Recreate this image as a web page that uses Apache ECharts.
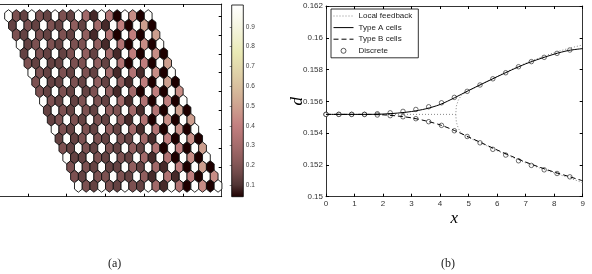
<!DOCTYPE html>
<html>
<head>
<meta charset="utf-8">
<script src="https://cdn.jsdelivr.net/npm/echarts@6/dist/echarts.min.js"></script>
<style>
  html, body { margin: 0; padding: 0; background: #fff; }
  #chart { width: 592px; height: 274px; }
</style>
</head>
<body>
<div id="chart"></div>
<script>
// ---------- (a) hexagonal cells, one string per row (19 cells each)
// W = white cell, digits = shade level
const hexRows = [
  "W32W32W32W51W60W80W",
  "2W32W32W42W51W70W90",
  "32W32W32W41W60W70W9",
  "W23W32W33W41W60W80W",
  "2W32W23W42W51W70W80",
  "32W22W33W42W60W70W9",
  "W32W32W32W51W61W80W",
  "3W22W32W42W41W70W90",
  "32W32W23W41W50W70W8",
  "W32W23W32W51W60W70W",
  "2W32W32W43W51W60W90",
  "23W32W32W41W60W80W9",
  "W32W32W42W51W60W80W",
  "2W23W32W32W51W70W80",
  "32W32W32W42W60W70W9",
  "W22W32W32W51W60W80W",
  "3W32W22W42W51W70W90",
  "32W33W32W41W61W70W8",
  "W32W32W32W51W60W80W"
];
const shade = { W: 1.0, 0: 0.04, 1: 0.09, 2: 0.14, 3: 0.19, 4: 0.24, 5: 0.29, 6: 0.34, 7: 0.39, 8: 0.44, 9: 0.49 };
const hexXTicks = [2.5, 7.5, 12.5, 17.5, 22.5];
const hexYTicks = [0, 2, 4, 6, 8, 10, 12, 14, 16, 18];

// colorbar
const cbMin = 0.042, cbMax = 1.01;
const cbTicks = [0.1, 0.2, 0.3, 0.4, 0.5, 0.6, 0.7, 0.8, 0.9];
// matlab "pink" colormap
const pinkMap = [
  "#1e0000", "#503434", "#704a4a", "#8a5a5a", "#9f6868", "#b27474", "#c38080",
  "#ca968a", "#d0aa93", "#d7bc9c", "#ddcca5", "#e3dbad", "#e9e9b4", "#efefca",
  "#f4f4dd", "#fafaef", "#ffffff"
];

// ---------- (b) curves
const curveX = [0, 0.5, 1, 1.5, 2, 2.5, 3, 3.5, 4, 4.5, 5, 5.5, 6, 6.5, 7, 7.5, 8, 8.5, 9];
const typeA = [0.15518, 0.15518, 0.15518, 0.15518, 0.1552, 0.15526, 0.15536, 0.15553, 0.1558, 0.15622,
  0.15668, 0.15712, 0.15755, 0.15797, 0.15836, 0.15868, 0.15897, 0.1592, 0.15932];
const typeB = [0.15518, 0.15518, 0.15518, 0.15518, 0.15515, 0.15508, 0.15496, 0.15477, 0.15452, 0.15417,
  0.15376, 0.15335, 0.15294, 0.15255, 0.15218, 0.15185, 0.15155, 0.15128, 0.151];

const feedbackUpX = [0, 4.55, 4.57, 4.64, 4.75, 4.93, 5.5, 6, 6.5, 7, 7.5, 8, 8.5, 9];
const feedbackUp = [0.15518, 0.15518, 0.1557, 0.15608, 0.1564, 0.1566, 0.15712, 0.15757, 0.158, 0.1584,
  0.15875, 0.15907, 0.15933, 0.15955];
const feedbackLowX = [4.55, 4.57, 4.64, 4.75, 4.93, 5.5, 6, 6.5, 7, 7.5, 8, 8.5, 9];
const feedbackLow = [0.15518, 0.1547, 0.1543, 0.15398, 0.15377, 0.15332, 0.1529, 0.1525, 0.15213, 0.1518,
  0.1515, 0.1512, 0.15088];

const discreteX = [0, 0.45, 0.9, 1.35, 1.8, 2.25, 2.7, 3.15, 3.6, 4.05, 4.5, 4.95, 5.4, 5.85, 6.3, 6.75,
  7.2, 7.65, 8.1, 8.55];
const discreteA = [0.15518, 0.15518, 0.15518, 0.15518, 0.15522, 0.15528, 0.15537, 0.15549, 0.15566, 0.15591,
  0.15625, 0.15663, 0.15703, 0.15742, 0.1578, 0.15818, 0.1585, 0.15877, 0.15902, 0.15923];
const discreteB = [0.15518, 0.15518, 0.15518, 0.15518, 0.15514, 0.1551, 0.15503, 0.15491, 0.15472, 0.15449,
  0.15415, 0.15379, 0.15339, 0.15298, 0.15262, 0.15226, 0.15197, 0.15169, 0.15146, 0.15125];

// build hex data: lattice x = column + row/2
let hexData = [];
hexRows.forEach((row, r) => {
  row.split("").forEach((ch, c) => {
    hexData.push([c + r / 2, r, shade[ch]]);
  });
});

const zip = (xs, ys) => xs.map((x, i) => [x, ys[i]]);
const hexCorners = [[0, -2 / 3], [0.5, -1 / 3], [0.5, 1 / 3], [0, 2 / 3], [-0.5, 1 / 3], [-0.5, -1 / 3]];

const sans = "Liberation Sans";
const serif = "Liberation Serif";
const axisBlack = { onZero: false, lineStyle: { color: "#000", width: 0.8 } };
const noSymbol = { opacity: 0 };

let myChart = echarts.init(document.getElementById("chart"), null, { renderer: "canvas" });

myChart.setOption({
  animation: false,
  backgroundColor: "#fff",
  title: [
    { text: "(a)", left: 108, top: 258, padding: 0,
      textStyle: { fontFamily: serif, fontSize: 12, fontWeight: "normal", color: "#222" } },
    { text: "(b)", left: 441, top: 258, padding: 0,
      textStyle: { fontFamily: serif, fontSize: 12, fontWeight: "normal", color: "#222" } }
  ],
  grid: [
    { left: -2, top: 4, width: 223.7, height: 192.7 },
    { left: 326, top: 6, width: 256.7, height: 190.7 },
    { left: 231.7, top: 5, width: 11.6, height: 191.7 }
  ],
  visualMap: {
    type: "continuous",
    show: false,
    seriesIndex: 0,
    dimension: 2,
    min: cbMin,
    max: cbMax,
    inRange: { color: pinkMap }
  },
  legend: {
    left: 331,
    top: 9,
    orient: "vertical",
    itemWidth: 20,
    itemHeight: 5,
    itemGap: 3.6,
    padding: [3, 6, 3, 2],
    borderColor: "#000",
    borderWidth: 0.8,
    backgroundColor: "#fff",
    textStyle: { fontFamily: sans, fontSize: 8, color: "#222" },
    data: [
      { name: "Local feedback", itemStyle: noSymbol, lineStyle: { width: 1 } },
      { name: "Type A cells", itemStyle: noSymbol, lineStyle: { width: 1 } },
      { name: "Type B cells", itemStyle: noSymbol, lineStyle: { width: 1 } },
      { name: "Discrete", itemStyle: { color: "#fff", borderColor: "#000", borderWidth: 0.8 } }
    ]
  },
  xAxis: [
    { gridIndex: 0, type: "value", min: -1.098, max: 27.47, position: "bottom",
      axisLine: axisBlack, splitLine: { show: false }, axisLabel: { show: false },
      axisTick: { inside: true, length: 3, customValues: hexXTicks, lineStyle: { color: "#000" } } },
    { gridIndex: 0, type: "value", min: -1.098, max: 27.47, position: "top",
      axisLine: axisBlack, splitLine: { show: false }, axisLabel: { show: false },
      axisTick: { inside: true, length: 3, customValues: hexXTicks, lineStyle: { color: "#000" } } },
    { gridIndex: 1, type: "value", min: 0, max: 9, interval: 1, position: "bottom",
      name: "x", nameLocation: "middle", nameGap: 13, nameMoveOverlap: false,
      nameTextStyle: { fontFamily: serif, fontStyle: "italic", fontSize: 17, color: "#000" },
      axisLine: axisBlack, splitLine: { show: false },
      axisTick: { inside: true, length: 3, lineStyle: { color: "#000" } },
      axisLabel: { margin: 3, fontFamily: sans, fontSize: 8, color: "#333" } },
    { gridIndex: 1, type: "value", min: 0, max: 9, interval: 1, position: "top",
      axisLine: axisBlack, splitLine: { show: false }, axisLabel: { show: false },
      axisTick: { inside: true, length: 3, lineStyle: { color: "#000" } } },
    { gridIndex: 2, type: "value", min: 0, max: 1, show: false }
  ],
  yAxis: [
    { gridIndex: 0, type: "value", inverse: true, min: -1.27, max: 19.14, position: "right",
      axisLine: axisBlack, splitLine: { show: false }, axisLabel: { show: false },
      axisTick: { inside: true, length: 3, customValues: hexYTicks, lineStyle: { color: "#000" } } },
    { gridIndex: 1, type: "value", min: 0.15, max: 0.162, interval: 0.002, position: "left",
      name: "d", nameLocation: "middle", nameGap: 20, nameRotate: 90, nameMoveOverlap: false,
      nameTextStyle: { fontFamily: serif, fontStyle: "italic", fontSize: 17, color: "#000" },
      axisLine: axisBlack, splitLine: { show: false },
      axisTick: { inside: true, length: 3, lineStyle: { color: "#000" } },
      axisLabel: { margin: 3, fontFamily: sans, fontSize: 8, color: "#333",
        formatter: (v) => String(+v.toFixed(3)) } },
    { gridIndex: 1, type: "value", min: 0.15, max: 0.162, interval: 0.002, position: "right",
      axisLine: axisBlack, splitLine: { show: false }, axisLabel: { show: false },
      axisTick: { inside: true, length: 3, lineStyle: { color: "#000" } } },
    { gridIndex: 2, type: "value", min: cbMin, max: cbMax, position: "right",
      axisLine: { show: false }, splitLine: { show: false },
      axisTick: { inside: true, length: 2, customValues: cbTicks, lineStyle: { color: "#333", width: 0.6 } },
      axisLabel: { margin: 2.5, customValues: cbTicks, fontFamily: sans, fontSize: 6.5, color: "#444" } },
    { gridIndex: 2, type: "value", min: cbMin, max: cbMax, position: "left",
      axisLine: { show: false }, splitLine: { show: false }, axisLabel: { show: false },
      axisTick: { inside: true, length: 2, customValues: cbTicks, lineStyle: { color: "#333", width: 0.6 } } }
  ],
  series: [
    {
      type: "custom",
      name: "cells",
      xAxisIndex: 0,
      yAxisIndex: 0,
      encode: { x: 0, y: 1 },
      data: hexData,
      renderItem: (params, api) => {
        const cx = api.value(0), cy = api.value(1);
        const pts = hexCorners.map(([dx, dy]) => api.coord([cx + dx, cy + dy]));
        return {
          type: "polygon",
          shape: { points: pts },
          style: { fill: api.visual("color"), stroke: "#111", lineWidth: 0.9 }
        };
      }
    },
    {
      // colour bar
      type: "custom",
      xAxisIndex: 4,
      yAxisIndex: 3,
      data: [[0, cbMin, 1, cbMax]],
      renderItem: (params, api) => {
        const p0 = api.coord([api.value(0), api.value(1)]);
        const p1 = api.coord([api.value(2), api.value(3)]);
        const stops = pinkMap.map((c, i) => ({ offset: i / (pinkMap.length - 1), color: c }));
        return {
          type: "rect",
          shape: { x: p0[0], y: p1[1], width: p1[0] - p0[0], height: p0[1] - p1[1] },
          style: { fill: new echarts.graphic.LinearGradient(0, 1, 0, 0, stops), stroke: "#000", lineWidth: 0.8 }
        };
      }
    },
    {
      name: "Local feedback", type: "line", xAxisIndex: 2, yAxisIndex: 1, color: "#888",
      data: zip(feedbackUpX, feedbackUp), symbol: "none",
      lineStyle: { color: "#888", width: 1, type: [1, 2] }
    },
    {
      name: "Local feedback", type: "line", xAxisIndex: 2, yAxisIndex: 1, color: "#888",
      data: zip(feedbackLowX, feedbackLow), symbol: "none",
      lineStyle: { color: "#888", width: 1, type: [1, 2] }
    },
    {
      name: "Type A cells", type: "line", xAxisIndex: 2, yAxisIndex: 1, color: "#000",
      data: zip(curveX, typeA), symbol: "none", smooth: 0.3,
      lineStyle: { color: "#000", width: 1 }
    },
    {
      name: "Type B cells", type: "line", xAxisIndex: 2, yAxisIndex: 1, color: "#000",
      data: zip(curveX, typeB), symbol: "none", smooth: 0.3,
      lineStyle: { color: "#000", width: 1, type: [5, 3] }
    },
    {
      name: "Discrete", type: "scatter", xAxisIndex: 2, yAxisIndex: 1,
      data: zip(discreteX, discreteA).concat(zip(discreteX, discreteB)),
      symbol: "circle", symbolSize: 4.5,
      itemStyle: { color: "#fff", borderColor: "#000", borderWidth: 0.7 }
    }
  ]
});
</script>
</body>
</html>
